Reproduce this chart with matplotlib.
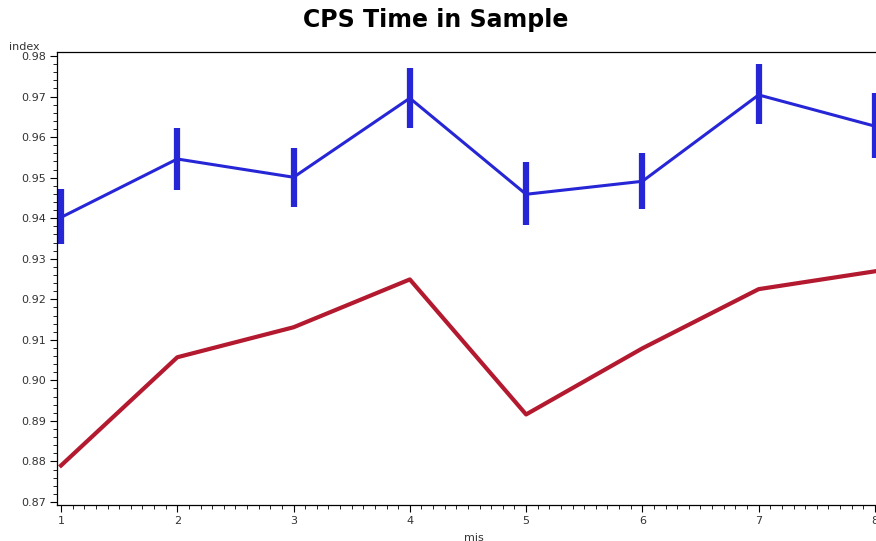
import matplotlib.pyplot as plt
from matplotlib.ticker import MultipleLocator

# sample index on x axis
mis = [1, 2, 3, 4, 5, 6, 7, 8]

# blue series with its error bar limits
blue_vals = [0.9402, 0.9546, 0.9501, 0.9696, 0.9459, 0.9491, 0.9704, 0.9627]
blue_low = [0.9336, 0.9469, 0.9427, 0.9622, 0.9383, 0.9422, 0.9632, 0.9548]
blue_high = [0.9472, 0.9622, 0.9573, 0.9770, 0.9538, 0.9560, 0.9780, 0.9709]

# red series
red_vals = [0.8790, 0.9057, 0.9131, 0.9249, 0.8916, 0.9079, 0.9225, 0.9269]

plt.rcParams['font.family'] = ['DejaVu Sans']

fig = plt.figure(figsize=(8.76, 5.41), dpi=100)
# axes runs a bit past the right edge, like the cropped original
ax = fig.add_axes([0.065, 0.0665, 0.951, 0.8374])

blue = '#2626d6'
red = '#b3192f'

ax.plot(mis, red_vals, color=red, lw=3.0)
ax.plot(mis, blue_vals, color=blue, lw=2.2)
ax.vlines(mis, blue_low, blue_high, color=blue, lw=4.5)

ax.set_xlim(0.965, 8.13)
ax.set_ylim(0.86926, 0.98099)

ax.xaxis.set_major_locator(MultipleLocator(1))
ax.xaxis.set_minor_locator(MultipleLocator(0.1))
ax.yaxis.set_major_locator(MultipleLocator(0.01))
ax.yaxis.set_minor_locator(MultipleLocator(0.002))
ax.yaxis.set_major_formatter(plt.FormatStrFormatter('%.2f'))

ax.tick_params(which='major', length=5, width=0.8, labelsize=8, labelcolor='#333333', pad=3)
ax.tick_params(which='minor', length=3, width=0.6)
ax.spines['right'].set_visible(False)
for s in ['left', 'bottom', 'top']:
    ax.spines[s].set_linewidth(0.9)

fig.text(0.010, 0.908, 'index', fontsize=8, color='#333333')
ax.set_xlabel('mis', fontsize=8, color='#333333', labelpad=5)
fig.suptitle('CPS Time in Sample', x=0.497, y=0.985, fontsize=17, fontweight='bold')

fig.savefig('out.png', dpi=100)
